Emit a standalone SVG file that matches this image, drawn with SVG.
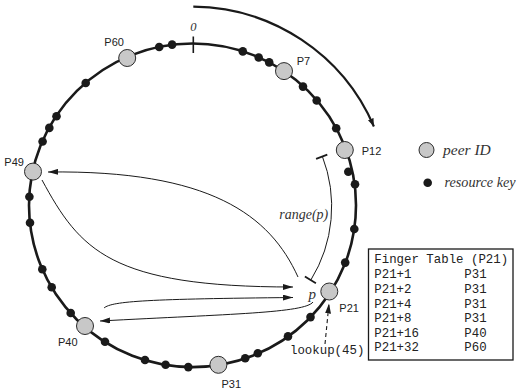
<svg xmlns="http://www.w3.org/2000/svg" width="519" height="392" viewBox="0 0 519 392">
<defs>
<style>
.ring{fill:none;stroke:#1a1a1a;stroke-width:2.6}
.peer{fill:#c8c8c8;stroke:#2a2a2a;stroke-width:1}
.key{fill:#1a1a1a}
.lbl{font-family:"Liberation Sans",Arial,sans-serif;font-size:11px;fill:#222}
.it{font-family:"Liberation Serif","Times New Roman",serif;font-style:italic;fill:#333}
.mono{font-family:"Liberation Mono","Courier New",monospace;font-size:12.4px;fill:#222}
.con{fill:none;stroke:#1a1a1a;stroke-width:1}
</style>
<marker id="ah" markerUnits="userSpaceOnUse" viewBox="0 0 10 6" refX="10" refY="3" markerWidth="10" markerHeight="6" orient="auto">
<path d="M0,0 L10,3 L0,6 z" fill="#1a1a1a"/>
</marker>
<marker id="ahs" markerUnits="userSpaceOnUse" viewBox="0 0 8 6" refX="8" refY="3" markerWidth="8" markerHeight="6" orient="auto">
<path d="M0,0 L8,3 L0,6 z" fill="#1a1a1a"/>
</marker>
</defs>
<rect width="519" height="392" fill="#fff"/>

<g id="ring">
<ellipse class="ring" cx="192.5" cy="205.3" rx="163.5" ry="161.8"/>
<line x1="193.3" y1="36.5" x2="193.3" y2="53" stroke="#1a1a1a" stroke-width="1.6"/>
<text class="it" x="193.3" y="31" font-size="12.5" text-anchor="middle">0</text>
</g>

<g id="keys" class="key">
<circle cx="159.2" cy="47" r="4.3"/>
<circle cx="172.1" cy="44.6" r="4.3"/>
<circle cx="242.8" cy="51.4" r="4.3"/>
<circle cx="258.7" cy="57.5" r="4.3"/>
<circle cx="269.2" cy="62.4" r="4.3"/>
<circle cx="303" cy="86.6" r="4.3"/>
<circle cx="316.7" cy="100.5" r="4.3"/>
<circle cx="336.2" cy="128.2" r="4.3"/>
<circle cx="348.3" cy="171.7" r="4.3"/>
<circle cx="355" cy="184.3" r="4.3"/>
<circle cx="354.3" cy="229" r="4.3"/>
<circle cx="345.2" cy="262.6" r="4.3"/>
<circle cx="310.5" cy="317.1" r="4.3"/>
<circle cx="288" cy="336.4" r="4.3"/>
<circle cx="257.8" cy="353.3" r="4.3"/>
<circle cx="245.2" cy="358.2" r="4.3"/>
<circle cx="188.3" cy="367.1" r="4.3"/>
<circle cx="165.6" cy="364.8" r="4.3"/>
<circle cx="145" cy="360" r="4.3"/>
<circle cx="105" cy="341.7" r="4.3"/>
<circle cx="70.7" cy="313" r="4.3"/>
<circle cx="51.7" cy="287.3" r="4.3"/>
<circle cx="42.3" cy="269.3" r="4.3"/>
<circle cx="30" cy="222.7" r="4.3"/>
<circle cx="29.4" cy="196.7" r="4.3"/>
<circle cx="42.6" cy="141.5" r="4.3"/>
<circle cx="49.3" cy="127.9" r="4.3"/>
<circle cx="56.5" cy="116.2" r="4.3"/>
<circle cx="85.7" cy="83" r="4.3"/>
</g>

<g id="P60"><circle class="peer" cx="127.2" cy="58" r="8.5"/><text class="lbl" x="104.3" y="46">P60</text></g>
<g id="P7"><circle class="peer" cx="284" cy="71.1" r="8.5"/><text class="lbl" x="296.7" y="65">P7</text></g>
<g id="P12"><circle class="peer" cx="344.8" cy="150" r="8.5"/><text class="lbl" x="361.7" y="155">P12</text></g>
<g id="P21"><circle class="peer" cx="329.3" cy="291.5" r="8.5"/><text class="lbl" x="339.3" y="311.7">P21</text></g>
<g id="P31"><circle class="peer" cx="218.4" cy="364.8" r="8.5"/><text class="lbl" x="221.5" y="388">P31</text></g>
<g id="P40"><circle class="peer" cx="85" cy="326" r="8.5"/><text class="lbl" x="58" y="345.5">P40</text></g>
<g id="P49"><circle class="peer" cx="33" cy="171.6" r="8.5"/><text class="lbl" x="4.3" y="166">P49</text></g>

<g id="connectors">
<path d="M193.3,6.7 A198,198 0 0 1 373.9,126.5" fill="none" stroke="#1a1a1a" stroke-width="2.2" marker-end="url(#ahs)"/>
<path class="con" d="M322.3,156.2 A140,140 0 0 1 310.8,280.1"/>
<line x1="316.1" y1="158.9" x2="327.3" y2="154.6" stroke="#1a1a1a" stroke-width="1.8"/>
<line x1="304.9" y1="276.4" x2="315.9" y2="283.3" stroke="#1a1a1a" stroke-width="1.8"/>
<path class="con" d="M298,277 C270,215 210,170 48,172" marker-end="url(#ah)"/>
<path class="con" d="M42,180 C80,250 110,287 293,287" marker-end="url(#ah)"/>
<path class="con" d="M104,308 C112,301 150,299 293,297.5" marker-end="url(#ah)"/>
<path class="con" d="M313,302 C305,313 230,314 100,321" marker-end="url(#ah)"/>
<path d="M325,344 L329,303.5" fill="none" stroke="#1a1a1a" stroke-width="1.1" stroke-dasharray="4 3" marker-end="url(#ah)"/>
</g>

<g id="annotations">
<text class="it" x="279.3" y="219" font-size="14">range(p)</text>
<text class="it" x="308.5" y="298.5" font-size="15">p</text>
<text class="mono" x="290" y="353.5" font-size="12">lookup(45)</text>
</g>

<g id="legend">
<circle class="peer" cx="426.5" cy="150" r="7.5"/>
<text class="it" x="443" y="155" font-size="15.5">peer ID</text>
<circle class="key" cx="427.7" cy="182.7" r="4.3"/>
<text class="it" x="444.5" y="187" font-size="14.2">resource key</text>
</g>

<g id="finger-table">
<rect x="368.5" y="249" width="144.5" height="111" fill="#fff" stroke="#1a1a1a" stroke-width="1.3"/>
<text class="mono" x="374.3" y="263.3">Finger Table (P21)</text>
<text class="mono" x="374.3" y="278.3">P21+1</text><text class="mono" x="464.3" y="278.3">P31</text>
<text class="mono" x="374.3" y="292.9">P21+2</text><text class="mono" x="464.3" y="292.9">P31</text>
<text class="mono" x="374.3" y="307.5">P21+4</text><text class="mono" x="464.3" y="307.5">P31</text>
<text class="mono" x="374.3" y="322.1">P21+8</text><text class="mono" x="464.3" y="322.1">P31</text>
<text class="mono" x="374.3" y="336.7">P21+16</text><text class="mono" x="464.3" y="336.7">P40</text>
<text class="mono" x="374.3" y="351.3">P21+32</text><text class="mono" x="464.3" y="351.3">P60</text>
</g>
</svg>
